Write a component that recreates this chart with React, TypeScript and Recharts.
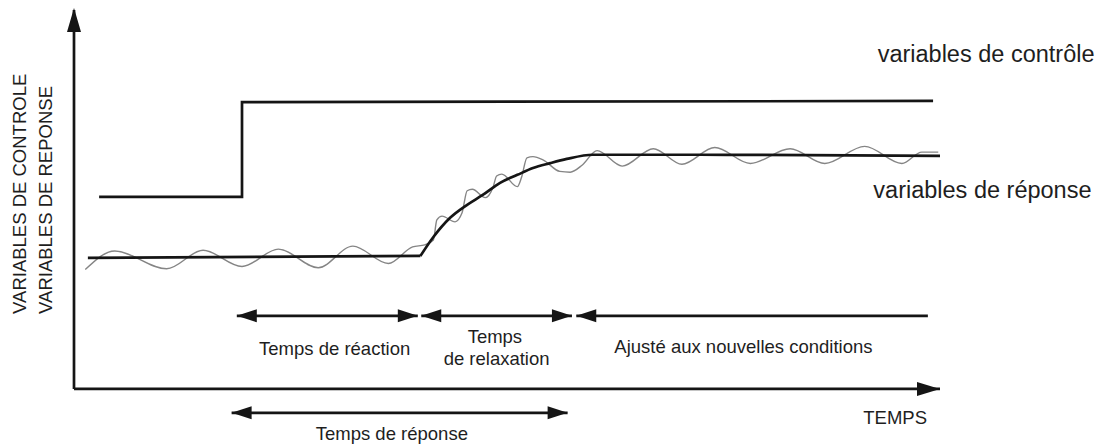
import { ComposedChart, Line, XAxis, YAxis, ReferenceDot } from 'recharts'

// time (t) runs 0..100 along the axis, value (v) 0..100 up the axis

const controlVars = [
  { t: 2.9, v: 50.7 },
  { t: 19.4, v: 50.7 },
  { t: 19.4, v: 75.7 },
  { t: 99.2, v: 76.0 },
]

const responseBase = [
  { t: 1.6, v: 34.6 },
  { t: 40.0, v: 35.1 },
]

const responseCurve = [
  { t: 40.0, v: 35.1 },
  { t: 41.5, v: 40.1 },
  { t: 43.4, v: 45.1 },
  { t: 45.4, v: 48.6 },
  { t: 47.2, v: 51.2 },
  { t: 49.2, v: 54.4 },
  { t: 51.2, v: 56.5 },
  { t: 53.0, v: 58.3 },
  { t: 55.0, v: 59.6 },
  { t: 56.9, v: 60.7 },
  { t: 59.9, v: 61.8 },
  { t: 72.3, v: 61.8 },
  { t: 100, v: 61.5 },
]

// measured (noisy) response, read crest by crest
const responseNoisy = [
  { t: 1.3, v: 31.5 }, { t: 4.7, v: 36.4 }, { t: 10.7, v: 31.7 }, { t: 14.9, v: 36.6 },
  { t: 19.4, v: 32.3 }, { t: 23.6, v: 36.9 }, { t: 28.2, v: 32.0 }, { t: 32.2, v: 37.7 },
  { t: 36.3, v: 33.1 }, { t: 39.1, v: 37.5 }, { t: 40.5, v: 38.0 }, { t: 41.5, v: 39.3 },
  { t: 41.9, v: 44.6 }, { t: 42.5, v: 45.6 }, { t: 44.0, v: 44.1 }, { t: 44.8, v: 46.4 },
  { t: 45.4, v: 52.3 }, { t: 46.0, v: 52.7 }, { t: 47.5, v: 50.5 }, { t: 48.4, v: 53.3 },
  { t: 48.8, v: 56.2 }, { t: 49.4, v: 56.7 }, { t: 51.2, v: 53.4 }, { t: 51.7, v: 56.0 },
  { t: 52.3, v: 61.0 }, { t: 53.0, v: 61.3 }, { t: 54.2, v: 60.4 }, { t: 56.1, v: 57.4 },
  { t: 57.3, v: 57.2 }, { t: 58.7, v: 59.1 }, { t: 60.4, v: 62.9 }, { t: 63.3, v: 58.8 },
  { t: 66.9, v: 63.4 }, { t: 70.2, v: 59.3 }, { t: 74.0, v: 63.7 }, { t: 78.1, v: 59.5 },
  { t: 82.7, v: 63.4 }, { t: 86.7, v: 59.5 }, { t: 91.3, v: 64.0 }, { t: 95.6, v: 59.5 },
  { t: 97.9, v: 62.5 }, { t: 99.8, v: 62.5 },
]

const reactionSpan = [{ t: 18.8, v: 19.3 }, { t: 39.7, v: 19.3 }]
const relaxationSpan = [{ t: 40.1, v: 19.3 }, { t: 57.5, v: 19.3 }]
const adjustedSpan = [{ t: 58.0, v: 19.3 }, { t: 98.6, v: 19.3 }]
const responseSpan = [{ t: 18.2, v: -6.3 }, { t: 57.0, v: -6.3 }]

const timeAxis = [{ t: 0, v: 0 }, { t: 100, v: 0 }]
const valueAxis = [{ t: 0, v: 0 }, { t: 0, v: 100 }]

const yLabels = ['VARIABLES DE CONTROLE', 'VARIABLES DE REPONSE']
const seriesLabels = ['variables de contrôle', 'variables de réponse']
const spanLabels = ['Temps de réaction', 'Temps', 'de relaxation', 'Ajusté aux nouvelles conditions', 'Temps de réponse']
const xLabel = 'TEMPS'

const INK = '#151515'
const FONT = "'Liberation Sans', Arial, Helvetica, sans-serif"

function arrowHeads(ends: 'both' | 'start' | 'end' | 'up', len = 20, half = 6.5) {
  return (p: any) => {
    const { cx, cy, index } = p
    const key = `ah-${index}`
    const first = index === 0
    if (ends === 'up') {
      if (first) return <g key={key} />
      return <polygon key={key} points={`${cx},${cy - 2} ${cx - half},${cy + len} ${cx + half},${cy + len}`} fill={INK} />
    }
    if (first && (ends === 'both' || ends === 'start')) {
      return <polygon key={key} points={`${cx},${cy} ${cx + len},${cy - half} ${cx + len},${cy + half}`} fill={INK} />
    }
    if (!first && (ends === 'both' || ends === 'end')) {
      return <polygon key={key} points={`${cx},${cy} ${cx - len},${cy - half} ${cx - len},${cy + half}`} fill={INK} />
    }
    return <g key={key} />
  }
}

function note(key: string, t: number, v: number, text: string, size: number, anchor = 'middle', rotate = false) {
  return (
    <ReferenceDot
      key={key}
      x={t}
      y={v}
      r={0}
      ifOverflow="visible"
      shape={(p: any) => (
        <text
          x={p.cx}
          y={p.cy}
          fontSize={size}
          fontFamily={FONT}
          textAnchor={anchor}
          fill="#1e1e1e"
          transform={rotate ? `rotate(-90 ${p.cx} ${p.cy})` : undefined}
        >
          {text}
        </text>
      )}
    />
  )
}

export default function App() {
  const lineProps = { dataKey: 'v', activeDot: false, isAnimationActive: false, legendType: 'none' as const }
  return (
    <div style={{ position: 'absolute', left: 0, top: 0, background: '#fff' }}>
      <ComposedChart width={1101} height={445} margin={{ top: 10, right: 161, bottom: 3, left: 74 }}>
        <XAxis type="number" dataKey="t" domain={[0, 100]} hide />
        <YAxis type="number" domain={[-14, 100]} hide />

        <Line {...lineProps} data={responseNoisy} type="monotone" stroke="#858585" strokeWidth={1.4} dot={false} />
        <Line {...lineProps} data={controlVars} type="linear" stroke={INK} strokeWidth={2.7} dot={false} />
        <Line {...lineProps} data={responseBase} type="linear" stroke={INK} strokeWidth={2.7} dot={false} />
        <Line {...lineProps} data={responseCurve} type="monotone" stroke={INK} strokeWidth={2.7} dot={false} />

        <Line {...lineProps} data={timeAxis} type="linear" stroke={INK} strokeWidth={2.7} dot={arrowHeads('end', 23, 7)} />
        <Line {...lineProps} data={valueAxis} type="linear" stroke={INK} strokeWidth={2.7} dot={arrowHeads('up', 22, 7)} />

        <Line {...lineProps} data={reactionSpan} type="linear" stroke={INK} strokeWidth={2.7} dot={arrowHeads('both')} />
        <Line {...lineProps} data={relaxationSpan} type="linear" stroke={INK} strokeWidth={2.7} dot={arrowHeads('both')} />
        <Line {...lineProps} data={adjustedSpan} type="linear" stroke={INK} strokeWidth={2.7} dot={arrowHeads('start')} />
        <Line {...lineProps} data={responseSpan} type="linear" stroke={INK} strokeWidth={2.7} dot={arrowHeads('both')} />

        {note('yl1', -5.5, 19.8, yLabels[0], 18.5, 'start', true)}
        {note('yl2', -2.5, 19.8, yLabels[1], 18.5, 'start', true)}
        {note('sl1', 92.8, 86.3, seriesLabels[0], 23.5, 'start')}
        {note('sl2', 92.3, 50.4, seriesLabels[1], 23.5, 'start')}
        {note('p1', 30.1, 9.0, spanLabels[0], 18.5)}
        {note('p2', 48.6, 12.1, spanLabels[1], 18.5)}
        {note('p3', 48.8, 6.3, spanLabels[2], 18.5)}
        {note('p4', 77.3, 9.5, spanLabels[3], 18.5)}
        {note('p5', 36.7, -13.5, spanLabels[4], 18.5)}
        {note('xl', 98.5, -9.2, xLabel, 18.5, 'end')}
      </ComposedChart>
    </div>
  )
}
